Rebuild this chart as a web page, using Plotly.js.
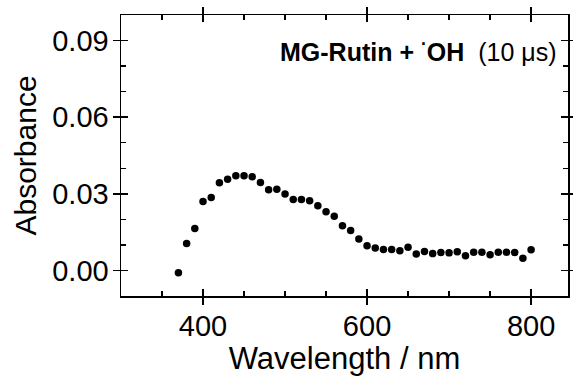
<!DOCTYPE html>
<html>
<head>
<meta charset="utf-8">
<script src="https://cdn.plot.ly/plotly-3.0.1.min.js"></script>
<style>html,body{margin:0;padding:0;background:#fff;}#chart{width:573px;height:376px;}</style>
</head>
<body>
<div id="chart"></div>
<script>
const wavelength = [370, 380, 390, 400, 410, 420, 430, 440, 450, 460, 470, 480, 490, 500, 510, 520, 530, 540, 550, 560, 570, 580, 590, 600, 610, 620, 630, 640, 650, 660, 670, 680, 690, 700, 710, 720, 730, 740, 750, 760, 770, 780, 790, 800];
const absorbance = [-0.0009, 0.0106, 0.0164, 0.0270, 0.0286, 0.0343, 0.0357, 0.0371, 0.0371, 0.0367, 0.0344, 0.0316, 0.0318, 0.0299, 0.0278, 0.0278, 0.0273, 0.0253, 0.0230, 0.0212, 0.0175, 0.0156, 0.0123, 0.0097, 0.0088, 0.0082, 0.0082, 0.0077, 0.0091, 0.0064, 0.0074, 0.0066, 0.0070, 0.0069, 0.0073, 0.0058, 0.0071, 0.0071, 0.0061, 0.0071, 0.0071, 0.0070, 0.0048, 0.0081];
const xTitle = 'Wavelength / nm';
const yTitle = 'Absorbance';
const label = '<b>MG-Rutin + <sup>·</sup>OH</b>&nbsp;&nbsp;(10 μs)';

const FONT = 'Liberation Sans, Arial, sans-serif';
const xr = [300, 845];
const yr = [-0.01, 0.1];

const trace = {
  x: wavelength, y: absorbance, type: 'scatter', mode: 'markers',
  marker: {color: '#000', size: 7.5}, showlegend: false, hoverinfo: 'skip'
};

const baseX = {
  range: xr, showgrid: false, zeroline: false, showline: true, linecolor: '#000', linewidth: 1.5,
  mirror: 'ticks', tick0: 400, dtick: 200, tickcolor: '#000', tickwidth: 1.5
};
const baseY = {
  range: yr, showgrid: false, zeroline: false, showline: true, linecolor: '#000', linewidth: 1.5,
  mirror: 'ticks', tick0: 0, dtick: 0.03, tickcolor: '#000', tickwidth: 1.5
};

const layout = {
  width: 573, height: 376,
  margin: {l: 121, r: 5, t: 15, b: 80},
  paper_bgcolor: '#fff', plot_bgcolor: '#fff',
  font: {family: FONT, color: '#000'},
  xaxis: Object.assign({}, baseX, {
    ticks: 'inside', ticklen: 7,
    minor: {dtick: 50, tick0: 400, ticks: 'inside', ticklen: 5, tickcolor: '#000', tickwidth: 1.2},
    tickfont: {size: 29, family: FONT}, ticklabelstandoff: 4,
    title: {text: xTitle, font: {size: 31, family: FONT}, standoff: 0}
  }),
  yaxis: Object.assign({}, baseY, {
    ticks: 'inside', ticklen: 7, tickformat: '.2f',
    minor: {dtick: 0.01, tick0: 0, ticks: 'inside', ticklen: 5, tickcolor: '#000', tickwidth: 1.2},
    tickfont: {size: 29, family: FONT}, ticklabelstandoff: 5,
    title: {text: yTitle, font: {size: 30, family: FONT}, standoff: 6}
  }),
  xaxis2: Object.assign({}, baseX, {overlaying: 'x', anchor: 'y', ticks: 'outside', ticklen: 7, showticklabels: false}),
  yaxis2: Object.assign({}, baseY, {overlaying: 'y', anchor: 'x', ticks: 'outside', ticklen: 7, showticklabels: false}),
  annotations: [{
    xref: 'paper', yref: 'paper', x: 0.98, y: 0.875, xanchor: 'right', yanchor: 'middle',
    text: label, showarrow: false, font: {size: 25, family: FONT, color: '#000'}
  }]
};

const dummy = {x: [xr[0]], y: [yr[0]], xaxis: 'x2', yaxis: 'y2', mode: 'markers', marker: {opacity: 0}, showlegend: false, hoverinfo: 'skip'};

Plotly.newPlot('chart', [trace, dummy], layout, {staticPlot: true});
</script>
</body>
</html>
